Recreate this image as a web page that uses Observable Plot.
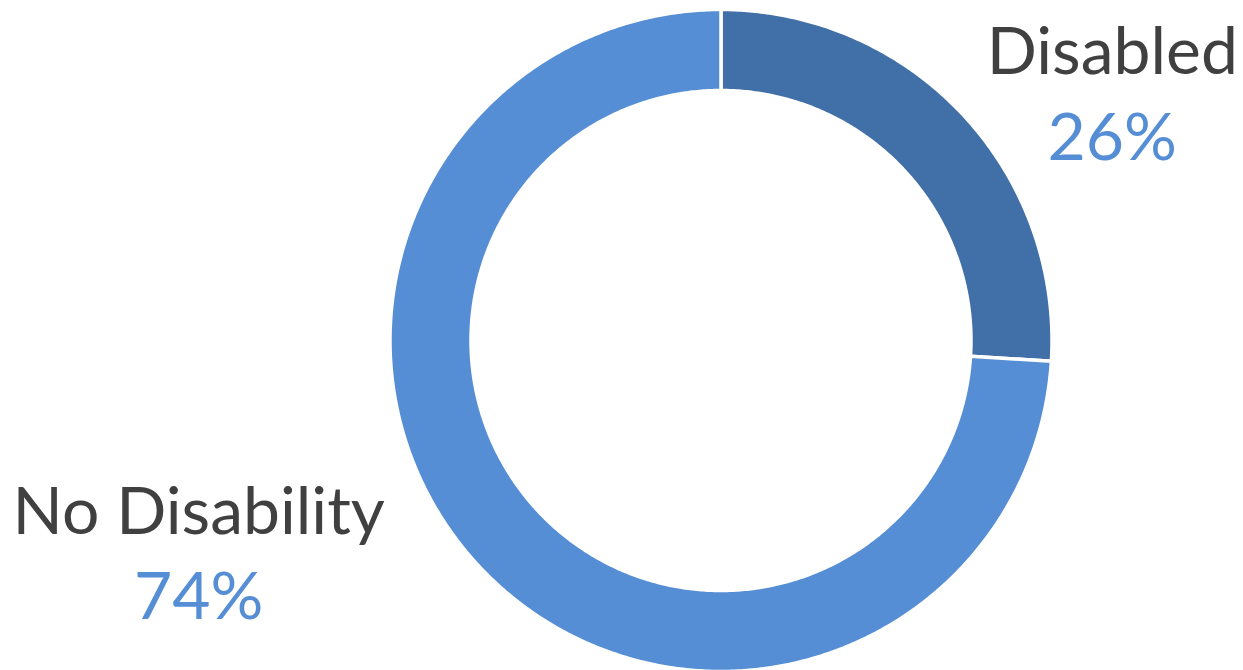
<!DOCTYPE html>
<html>
<head>
<meta charset="utf-8">
<script src="https://cdn.jsdelivr.net/npm/d3@7"></script>
<script src="https://cdn.jsdelivr.net/npm/@observablehq/plot@0.6"></script>
<style>
  html, body { margin: 0; padding: 0; background: #fff; }
  svg { display: block; }
</style>
</head>
<body>
<div id="chart"></div>
<script>
// ---- data ----
const categories = ["Disabled", "No Disability"];
const shares = [26, 74];
const percentLabels = ["26%", "74%"];
const colors = ["#416FA7", "#558ED5"];

// ---- geometry (derived from data) ----
const W = 1243, H = 670;
const cx = 720.5, cy = 340, R = 331, innerFrac = 250 / 331;

const pie = d3.pie().sort(null).value(d => d.value);
const arcs = pie(categories.map((c, i) => ({name: c, value: shares[i]})));

const polyPoints = [];
arcs.forEach(a => {
  const n = Math.max(2, Math.ceil((a.endAngle - a.startAngle) / (Math.PI / 360)));
  const outer = d3.range(n + 1).map(k => a.startAngle + (a.endAngle - a.startAngle) * k / n);
  outer.forEach(t => polyPoints.push({name: a.data.name, x: Math.sin(t), y: Math.cos(t)}));
  outer.slice().reverse().forEach(t => polyPoints.push({name: a.data.name, x: innerFrac * Math.sin(t), y: innerFrac * Math.cos(t)}));
});

const labels = arcs.map((a, i) => {
  const mid = (a.startAngle + a.endAngle) / 2;
  return {name: a.data.name, pct: percentLabels[i], x: Math.sin(mid), y: Math.cos(mid), right: Math.sin(mid) >= 0};
});

const fontFamily = "Lato, 'Open Sans', sans-serif";
const fw = 400;

const chart = Plot.plot({
  width: W,
  height: H,
  margin: 0,
  x: {domain: [-cx / R, (W - cx) / R], range: [0, W], axis: null},
  y: {domain: [-(H - cy) / R, cy / R], range: [H, 0], axis: null},
  color: {domain: categories, range: colors},
  style: {fontFamily, background: "#fff"},
  marks: [
    Plot.line(polyPoints, {x: "x", y: "y", z: "name", fill: "name", stroke: "white", strokeWidth: 3.5, curve: "linear-closed"}),
    Plot.text(labels.filter(d => d.right), {x: "x", y: "y", text: "name", dx: 150, dy: -61, fontSize: 66, fontWeight: fw, fill: "#404040", textAnchor: "middle"}),
    Plot.text(labels.filter(d => d.right), {x: "x", y: "y", text: "pct", dx: 150, dy: 25, fontSize: 66, fontWeight: fw, fill: "#558ED5", textAnchor: "middle"}),
    Plot.text(labels.filter(d => !d.right), {x: "x", y: "y", text: "name", dx: -281, dy: -54, fontSize: 66, fontWeight: fw, fill: "#404040", textAnchor: "middle"}),
    Plot.text(labels.filter(d => !d.right), {x: "x", y: "y", text: "pct", dx: -281, dy: 31, fontSize: 66, fontWeight: fw, fill: "#558ED5", textAnchor: "middle"})
  ]
});
document.getElementById("chart").append(chart);
</script>
</body>
</html>
